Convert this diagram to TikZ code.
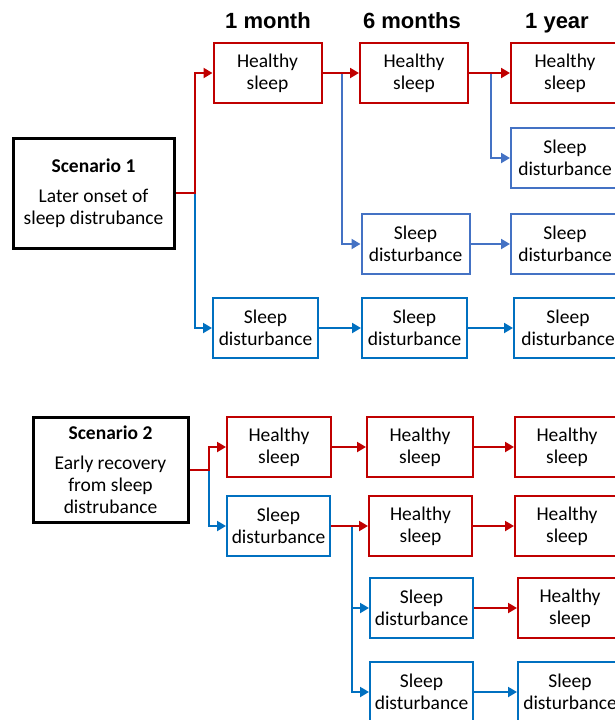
\documentclass[tikz,border=0pt]{standalone}
\usepackage{fontspec}
\setmainfont{Carlito}
\newfontfamily\headfont{Liberation Sans}
\usetikzlibrary{positioning,arrows.meta}
\definecolor{hsred}{HTML}{C00000}
\definecolor{sdblue}{HTML}{0070C0}
\definecolor{sdlight}{HTML}{4472C4}

\begin{document}
\begin{tikzpicture}[x=1pt, y=-1pt,
    box/.style={draw, line width=2pt, minimum width=108pt, minimum height=60pt, align=center, inner sep=0pt, font=\fontsize{19.5}{22}\selectfont},
    hs/.style={box, draw=hsred},
    sd/.style={box, draw=sdblue},
    sdl/.style={box, draw=sdlight},
    scen/.style={draw, line width=3pt, align=center, inner sep=0pt, font=\fontsize{19.5}{22}\selectfont},
    head/.style={anchor=base, font=\headfont\bfseries\fontsize{22}{26}\selectfont},
    redarr/.style={hsred, line width=2pt, -{Triangle[length=9pt,width=10pt]}},
    bluearr/.style={sdblue, line width=2pt, -{Triangle[length=9pt,width=10pt]}},
    lightarr/.style={sdlight, line width=2pt, -{Triangle[length=9pt,width=10pt]}}]
  \useasboundingbox (0,0) rectangle (615,720);
  \clip (0,0) rectangle (615,720);

  % column heads
  \node[head] (m1) at (268, 28) {1 month};
  \node[head] (m6) at (412, 28) {6 months};
  \node[head] (y1) at (557, 28) {1 year};

  % scenario 1
  \node[scen, minimum width=161pt, minimum height=110pt] (s1) at (93.5, 193) {\textbf{Scenario 1}\\[8pt]Later onset of\\sleep distrubance};
  \node[hs] (h1a) at (267.5, 73) {Healthy\\sleep};
  \node[hs] (h1b) at (414, 73) {Healthy\\sleep};
  \node[hs] (h1c) at (565, 73) {Healthy\\sleep};
  \node[sdl] (d1c2) at (565, 158) {Sleep\\disturbance};
  \node[sdl] (d1b) at (415.5, 244) {Sleep\\disturbance};
  \node[sdl] (d1c) at (565, 244) {Sleep\\disturbance};
  \node[sd, minimum width=105pt] (d1a) at (265.5, 328) {Sleep\\disturbance};
  \node[sd, minimum width=105pt] (d1b2) at (414.5, 328) {Sleep\\disturbance};
  \node[sd] (d1c3) at (568, 328) {Sleep\\disturbance};

  \coordinate (j1) at ([xshift=19pt]s1.east);
  \coordinate (j2) at ([xshift=19pt]h1a.east);
  \coordinate (j3) at ([xshift=22pt]h1b.east);
  \draw[bluearr] (j1) |- (d1a.west);
  \draw[lightarr] (j2) |- (d1b.west);
  \draw[lightarr] (j3) |- (d1c2.west);
  \draw[redarr] (s1.east) -- (j1) |- (h1a.west);
  \draw[redarr] (h1a) -- (h1b);
  \draw[redarr] (h1b) -- (h1c);
  \draw[lightarr] (d1b) -- (d1c);
  \draw[bluearr] (d1a) -- (d1b2);
  \draw[bluearr] (d1b2) -- (d1c3);

  % scenario 2
  \node[scen, minimum width=155pt, minimum height=105pt] (s2) at (110.5, 469.5) {\textbf{Scenario 2}\\[8pt]Early recovery\\from sleep\\distrubance};
  \node[hs, minimum width=104pt] (h2a) at (279, 447) {Healthy\\sleep};
  \node[hs, minimum width=106pt] (h2b) at (420, 447) {Healthy\\sleep};
  \node[hs, minimum width=104pt] (h2c) at (567, 447) {Healthy\\sleep};
  \node[sd, minimum width=103pt] (d2a) at (278.5, 526) {Sleep\\disturbance};
  \node[hs, minimum width=103pt] (h2b2) at (420.5, 526) {Healthy\\sleep};
  \node[hs, minimum width=104pt] (h2c2) at (567, 526) {Healthy\\sleep};
  \node[sd, minimum width=103pt] (d2b) at (421.5, 608) {Sleep\\disturbance};
  \node[hs, minimum width=104pt] (h2c3) at (570, 608) {Healthy\\sleep};
  \node[sd, minimum width=103pt] (d2b2) at (421.5, 692) {Sleep\\disturbance};
  \node[sd, minimum width=104pt] (d2c) at (570, 692) {Sleep\\disturbance};

  \coordinate (k1) at ([xshift=19pt]s2.east);
  \coordinate (k2) at ([xshift=21pt]d2a.east);
  \draw[bluearr] (k1) |- (d2a.west);
  \draw[bluearr] (k2) |- (d2b.west);
  \draw[bluearr] (k2) |- (d2b2.west);
  \draw[redarr] (s2.east) -- (k1) |- (h2a.west);
  \draw[redarr] (h2a) -- (h2b);
  \draw[redarr] (h2b) -- (h2c);
  \draw[redarr] (d2a) -- (h2b2);
  \draw[redarr] (h2b2) -- (h2c2);
  \draw[redarr] (d2b) -- (h2c3);
  \draw[bluearr] (d2b2) -- (d2c);
\end{tikzpicture}
\end{document}
